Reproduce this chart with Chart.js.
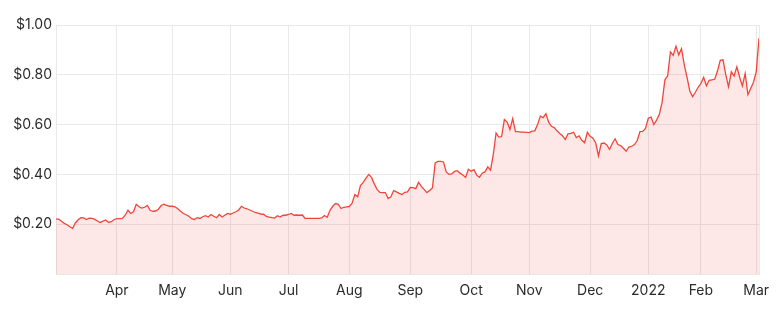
<!DOCTYPE html>
<html>
<head>
<meta charset="utf-8">
<script src="https://cdn.jsdelivr.net/npm/chart.js@4/dist/chart.umd.min.js"></script>
<style>
html,body{margin:0;padding:0;background:#fff;}
#wrap{width:784px;height:313px;}
</style>
</head>
<body>
<div id="wrap"><canvas id="priceChart" width="784" height="313"></canvas></div>
<script>
// trading-day index where each month starts, and its label
const monthStarts=[22,42,63,84,106,128,150,171,193,214,233,253];
const monthLabels=['Apr','May','Jun','Jul','Aug','Sep','Oct','Nov','Dec','2022','Feb','Mar'];
const yTicks=[0.2,0.4,0.6,0.8,1.0];
// daily close, Mar 2021 - Mar 2022
const prices=[
0.220,0.220,0.212,0.203,0.198,0.190,0.183,0.205,0.218,0.226,
0.225,0.219,0.224,0.223,0.219,0.213,0.207,0.212,0.217,0.207,
0.210,0.219,0.222,0.222,0.223,0.236,0.256,0.243,0.250,0.280,
0.270,0.265,0.268,0.275,0.256,0.252,0.253,0.260,0.275,0.280,
0.276,0.272,0.272,0.270,0.262,0.252,0.243,0.238,0.232,0.222,
0.219,0.226,0.223,0.230,0.234,0.229,0.239,0.232,0.226,0.239,
0.229,0.236,0.243,0.240,0.245,0.250,0.257,0.272,0.265,0.262,
0.257,0.252,0.247,0.244,0.241,0.240,0.231,0.228,0.226,0.225,
0.234,0.229,0.236,0.236,0.239,0.243,0.236,0.237,0.236,0.237,
0.223,0.223,0.223,0.223,0.223,0.223,0.225,0.235,0.228,0.256,
0.272,0.283,0.280,0.263,0.268,0.270,0.271,0.285,0.319,0.310,
0.355,0.368,0.385,0.400,0.388,0.362,0.340,0.328,0.327,0.327,
0.303,0.310,0.335,0.330,0.324,0.319,0.328,0.330,0.348,0.347,
0.343,0.368,0.352,0.340,0.327,0.335,0.346,0.446,0.452,0.452,
0.450,0.410,0.400,0.402,0.412,0.415,0.405,0.398,0.388,0.421,
0.413,0.419,0.397,0.388,0.405,0.410,0.430,0.417,0.480,0.566,
0.550,0.552,0.620,0.610,0.580,0.624,0.572,0.572,0.570,0.570,
0.569,0.568,0.574,0.575,0.600,0.634,0.628,0.644,0.610,0.593,
0.588,0.575,0.564,0.555,0.540,0.563,0.565,0.569,0.548,0.555,
0.537,0.527,0.569,0.553,0.545,0.526,0.474,0.524,0.526,0.518,
0.500,0.524,0.543,0.520,0.516,0.505,0.493,0.510,0.513,0.520,
0.536,0.572,0.573,0.585,0.626,0.630,0.600,0.618,0.641,0.690,
0.780,0.796,0.892,0.878,0.915,0.880,0.905,0.840,0.790,0.735,
0.712,0.730,0.750,0.765,0.790,0.756,0.778,0.780,0.782,0.815,
0.858,0.860,0.800,0.752,0.812,0.795,0.832,0.790,0.755,0.805,
0.720,0.745,0.770,0.812,0.947
];

const points=prices.map((v,i)=>({x:i,y:v}));
const gridColor='#e9e9e9';
const textColor='#2b2b2b';
const font={family:'Inter, "Noto Sans", sans-serif',size:14};

new Chart(document.getElementById('priceChart').getContext('2d'),{
    type:'line',
    data:{
        datasets:[{
            label:'Price',
            data:points,
            borderColor:'#f2453a',
            backgroundColor:'rgba(244,67,54,0.12)',
            borderWidth:1.3,
            fill:'origin',
            tension:0,
            pointRadius:0
        }]
    },
    options:{
        responsive:false,
        animation:false,
        layout:{padding:{top:25,right:25,left:0,bottom:0}},
        plugins:{legend:{display:false},tooltip:{enabled:false}},
        scales:{
            x:{
                type:'linear',
                min:0,
                max:prices.length-1,
                afterBuildTicks:axis=>{
                    axis.ticks=monthStarts.map(v=>({value:v})).concat([{value:prices.length-1}]);
                },
                afterFit:axis=>{axis.height=39;},
                grid:{color:gridColor,drawTicks:false},
                border:{color:gridColor},
                ticks:{
                    autoSkip:false,
                    maxRotation:0,
                    padding:8,
                    color:textColor,
                    font:font,
                    callback:v=>{
                        const k=monthStarts.indexOf(v);
                        return k<0 ? '' : monthLabels[k];
                    }
                }
            },
            y:{
                min:0,
                max:1,
                afterBuildTicks:axis=>{
                    axis.ticks=[{value:0}].concat(yTicks.map(v=>({value:v})));
                },
                afterFit:axis=>{axis.width=56;},
                grid:{color:gridColor,drawTicks:false},
                border:{color:gridColor},
                ticks:{
                    padding:4,
                    color:textColor,
                    font:font,
                    callback:v=>v===0 ? '' : '$'+v.toFixed(2)
                }
            }
        }
    }
});
</script>
</body>
</html>
